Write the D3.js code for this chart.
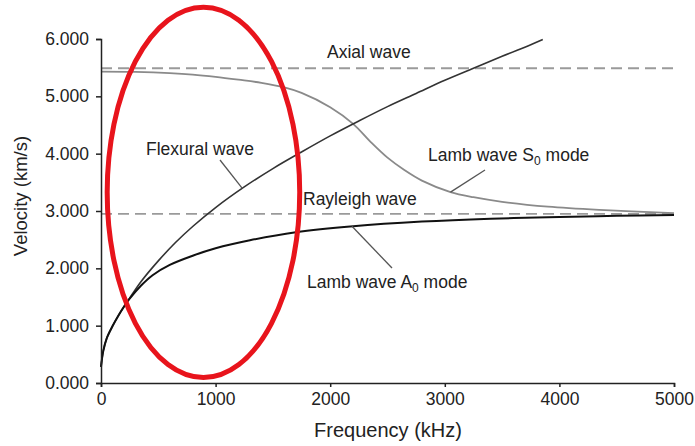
<!DOCTYPE html>
<html><head><meta charset="utf-8">
<script src="https://cdn.jsdelivr.net/npm/d3@7"></script>
<style>body{margin:0;background:#fff} svg{display:block}</style>
</head><body>
<script>
// ---- data (frequency in kHz, velocity in m/s) ----
const xTicks = [0, 1000, 2000, 3000, 4000, 5000];
const xTickLabels = ["0", "1000", "2000", "3000", "4000", "5000"];
const yTicks = [0, 1000, 2000, 3000, 4000, 5000, 6000];
const yTickLabels = ["0.000", "1.000", "2.000", "3.000", "4.000", "5.000", "6.000"];

const axialVelocity = 5490;
const rayleighVelocity = 2950;

const flexFreq = [0, 20, 50, 100, 150, 200, 250, 350, 500, 650, 800, 1000, 1250, 1500, 1750, 2000, 2250, 2500, 2750, 3000, 3250, 3500, 3750, 3855];
const flexVel  = [280, 560, 780, 990, 1170, 1330, 1480, 1770, 2130, 2450, 2730, 3060, 3420, 3740, 4030, 4310, 4570, 4820, 5050, 5280, 5490, 5700, 5900, 5990];

const a0Freq = [0, 20, 50, 100, 150, 200, 250, 350, 450, 600, 800, 1000, 1300, 1700, 2200, 2800, 3400, 4000, 4500, 5000];
const a0Vel  = [280, 560, 780, 990, 1170, 1330, 1470, 1700, 1880, 2060, 2220, 2350, 2490, 2630, 2735, 2815, 2865, 2895, 2915, 2930];

const s0Freq = [0, 300, 600, 800, 1000, 1200, 1400, 1600, 1750, 2000, 2200, 2350, 2500, 2650, 2800, 3050, 3250, 3500, 3900, 4350, 5000];
const s0Vel  = [5430, 5425, 5405, 5380, 5340, 5290, 5235, 5155, 5060, 4810, 4520, 4210, 3930, 3710, 3530, 3330, 3240, 3160, 3075, 3018, 2962];

const W = 695, H = 446;
const svg = d3.select("body").append("svg").attr("width", W).attr("height", H)
  .style("font-family", "'Liberation Sans', Arial, Helvetica, sans-serif");

const x = d3.scaleLinear().domain([0, 5000]).range([101, 674]);
const y = d3.scaleLinear().domain([0, 6000]).range([383, 39]);

const line = d3.line().x(d => x(d[0])).y(d => y(d[1])).curve(d3.curveCatmullRom.alpha(0.5));
const zip = (a, b) => a.map((v, i) => [v, b[i]]);

// dashed reference lines
[axialVelocity, rayleighVelocity].forEach(v => {
  svg.append("line").attr("x1", x(0)).attr("x2", x(5000)).attr("y1", y(v)).attr("y2", y(v))
    .attr("stroke", "#9a9a9a").attr("stroke-width", 1.8).attr("stroke-dasharray", "11,6");
});

// curves
svg.append("path").datum(zip(s0Freq, s0Vel)).attr("d", line)
  .attr("fill", "none").attr("stroke", "#8a8a8a").attr("stroke-width", 1.8);
svg.append("path").datum(zip(flexFreq, flexVel)).attr("d", line)
  .attr("fill", "none").attr("stroke", "#333").attr("stroke-width", 1.6);
svg.append("path").datum(zip(a0Freq, a0Vel)).attr("d", line)
  .attr("fill", "none").attr("stroke", "#111").attr("stroke-width", 2);

// axes
const xAxis = d3.axisBottom(x).tickValues(xTicks).tickFormat((d, i) => xTickLabels[i]).tickSize(4).tickPadding(6);
const yAxis = d3.axisLeft(y).tickValues(yTicks).tickFormat((d, i) => yTickLabels[i]).tickSize(5).tickPadding(7);
const gx = svg.append("g").attr("transform", `translate(0,${y(0)})`).call(xAxis);
const gy = svg.append("g").attr("transform", `translate(${x(0)},0)`).call(yAxis);
[gx, gy].forEach(g => {
  g.select(".domain").attr("stroke", "#222").attr("stroke-width", 1.5);
  g.selectAll(".tick line").attr("stroke", "#222").attr("stroke-width", 1.5);
  g.selectAll(".tick text").attr("fill", "#222").style("font-size", "17.5px")
    .style("font-family", "'Liberation Sans', Arial, sans-serif");
});

// axis titles
svg.append("text").attr("x", 388).attr("y", 437).attr("text-anchor", "middle")
  .style("font-size", "20px").attr("fill", "#222").text("Frequency (kHz)");
svg.append("text").attr("transform", "translate(27,196) rotate(-90)").attr("text-anchor", "middle")
  .style("font-size", "18.5px").attr("fill", "#222").text("Velocity (km/s)");

// helper: interpolate a series at frequency f
function at(fr, vl, f) {
  const i = d3.bisectLeft(fr, f);
  if (i <= 0) return vl[0];
  const t = (f - fr[i - 1]) / (fr[i] - fr[i - 1]);
  return vl[i - 1] + t * (vl[i] - vl[i - 1]);
}
const leader = (x1, y1, f, fr, vl) => svg.append("line")
  .attr("x1", x1).attr("y1", y1).attr("x2", x(f)).attr("y2", y(at(fr, vl, f)))
  .attr("stroke", "#555").attr("stroke-width", 1.3);
const label = (tx, ty, main, sub, after) => {
  const t = svg.append("text").attr("x", tx).attr("y", ty).style("font-size", "17.5px").attr("fill", "#222");
  t.append("tspan").text(main);
  if (sub) {
    t.append("tspan").attr("dy", 4).style("font-size", "12px").text(sub);
    t.append("tspan").attr("dy", -4).text(after);
  }
  return t;
};

// annotations
label(327, 58, "Axial wave");
label(146, 155, "Flexural wave");
leader(220, 160, 1233, flexFreq, flexVel);
label(303, 205, "Rayleigh wave");
label(428, 161, "Lamb wave S", "0", " mode");
leader(485, 170, 3050, s0Freq, s0Vel);
label(307, 288, "Lamb wave A", "0", " mode");
leader(392, 268, 2190, a0Freq, a0Vel);

// red highlight ellipse
svg.append("ellipse")
  .attr("cx", x(894)).attr("cy", y(3325))
  .attr("rx", x(840) - x(0)).attr("ry", y(0) - y(3230))
  .attr("fill", "none").attr("stroke", "#e8141c").attr("stroke-width", 5);
</script>
</body></html>
